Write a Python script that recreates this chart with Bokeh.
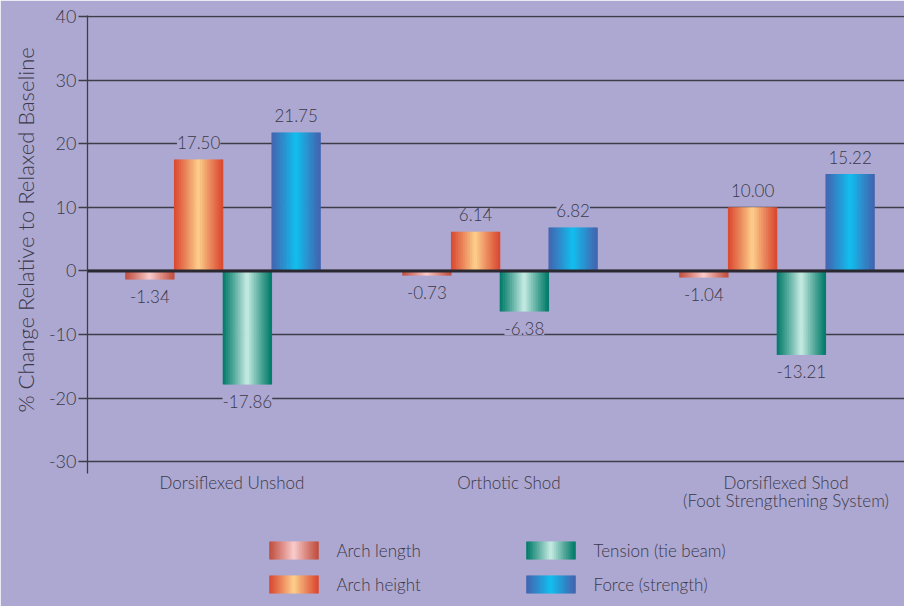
import numpy as np
from bokeh.plotting import figure
from bokeh.models import (Range1d, ColumnDataSource, LabelSet, Span,
                          FixedTicker, Title, BoxAnnotation)
from bokeh.core.properties import value
from bokeh.embed import file_html
from bokeh.resources import INLINE

# ---------------- data ----------------
categories = ["Dorsiflexed Unshod", "Orthotic Shod",
              "Dorsiflexed Shod\n(Foot Strengthening System)"]
series_names = ["Arch length", "Arch height", "Tension (tie beam)", "Force (strength)"]
arch_length = [-1.34, -0.73, -1.04]
arch_height = [17.50, 6.14, 10.00]
tension = [-17.86, -6.38, -13.21]
force = [21.75, 6.82, 15.22]
y_ticks = [-30, -20, -10, 0, 10, 20, 30, 40]
y_title = "% Change Relative to Relaxed Baseline"

series_values = [arch_length, arch_height, tension, force]

# ---------------- style / layout ----------------
BG = "#ada8d2"
TEXT = "#3b3948"
GRID = "#3e3c48"
FONT = "'Lato Light', Lato"
edge_colors = ["#c04e3e", "#da4830", "#007a68", "#4264b0"]
center_colors = ["#facdcd", "#fed08c", "#c8ece4", "#10c0f0"]
N_SLICES = 28
BAR_W = 0.176
W, H = 904, 606
LEFT, TOP = 87, 15
X0, X1 = 0.5108, 3.4603
Y_TOP, Y_AXIS_BOTTOM = 40.15, -31.85
PX_PER_UNIT = 6.3611
Y_BOTTOM = Y_TOP - (H - TOP) / PX_PER_UNIT


def px_to_x(px):
    return X0 + (px - LEFT) / (W - LEFT) * (X1 - X0)


def px_to_y(py):
    return Y_TOP - (py - TOP) / PX_PER_UNIT


def hex2rgb(h):
    h = h.lstrip("#")
    return np.array([int(h[i:i + 2], 16) for i in (0, 2, 4)], dtype=float)


def gradient(edge, center, n):
    t = (np.arange(n) + 0.5) / n
    f = (1 - np.abs(2 * t - 1)) ** 1.1
    e, c = hex2rgb(edge), hex2rgb(center)
    cols = []
    for fi in f:
        rgb = e + (c - e) * fi
        cols.append("#%02x%02x%02x" % tuple(int(round(v)) for v in rgb))
    return t, cols


group_x = np.arange(1, len(categories) + 1)

p = figure(width=W, height=H,
           x_range=Range1d(X0, X1),
           y_range=Range1d(Y_BOTTOM, Y_TOP),
           x_axis_location=None,
           output_backend="svg", toolbar_location=None,
           min_border_left=LEFT, min_border_right=0, min_border_top=TOP,
           min_border_bottom=0,
           background_fill_color=BG, border_fill_color=BG,
           outline_line_color=BG, outline_line_width=2)
# pixel-space ranges for the captions and the legend
p.extra_x_ranges = {"px": Range1d(LEFT, W)}
p.extra_y_ranges = {"px": Range1d(H, TOP)}

# gradient bars built from thin slices
xs, tops, bottoms, cols = [], [], [], []
lab_x, lab_y, lab_t, lab_off = [], [], [], []
for i, vals in enumerate(series_values):
    t, gcols = gradient(edge_colors[i], center_colors[i], N_SLICES)
    for g, v in zip(group_x, vals):
        cx = g + (i - 1.5) * BAR_W
        for tk, ck in zip(t, gcols):
            xs.append(cx - BAR_W / 2 + tk * BAR_W)
            tops.append(max(v, 0))
            bottoms.append(min(v, 0))
            cols.append(ck)
        lab_x.append(cx)
        lab_y.append(v)
        lab_t.append(f"{v:.2f}")
        lab_off.append(17 if v >= 0 else -17)

bars = ColumnDataSource(dict(x=xs, top=tops, bottom=bottoms, color=cols))
p.vbar(x="x", width=BAR_W / N_SLICES * 1.35, top="top", bottom="bottom",
       fill_color="color", line_color=None, source=bars)

labels = ColumnDataSource(dict(x=lab_x, y=lab_y, text=lab_t, yoff=lab_off))
p.add_layout(LabelSet(x="x", y="y", text="text", y_offset="yoff", source=labels,
                      text_align="center", text_baseline="middle",
                      text_font=value(FONT), text_font_size="17px",
                      text_color=TEXT, background_fill_color=BG))

p.add_layout(Span(location=0, dimension="width", line_color="#2a2830",
                  line_width=3))

# y axis and grid
p.ygrid.ticker = FixedTicker(ticks=y_ticks)
p.ygrid.grid_line_color = GRID
p.ygrid.grid_line_width = 1.3
p.xgrid.visible = False

p.yaxis.ticker = FixedTicker(ticks=y_ticks)
p.yaxis.bounds = (Y_AXIS_BOTTOM, Y_TOP)
p.yaxis.major_label_overrides = {int(v): str(v) for v in y_ticks}
p.yaxis.axis_line_color = GRID
p.yaxis.axis_line_width = 1.3
p.yaxis.major_tick_line_color = GRID
p.yaxis.major_tick_line_width = 1.3
p.yaxis.major_tick_out = 9
p.yaxis.major_tick_in = 0
p.yaxis.minor_tick_line_color = None
p.yaxis.major_label_standoff = 2
p.yaxis.major_label_text_font = FONT
p.yaxis.major_label_text_font_size = "18px"
p.yaxis.major_label_text_color = TEXT

# y-axis title as a side title, shifted up to sit beside the axis line
p.add_layout(Title(text=y_title, align="left", offset=194, standoff=13,
                   text_font=FONT, text_font_size="22px",
                   text_font_style="normal", text_color=TEXT), "left")

# cover the hairline seam at the frame's left edge below the axis
p.add_layout(BoxAnnotation(left=px_to_x(84), right=px_to_x(90),
                           top=px_to_y(475), bottom=px_to_y(H + 2),
                           fill_color=BG, fill_alpha=1.0, line_color=None,
                           level="overlay"))

# category captions under the plot area
p.text(x=list(group_x), y=[471] * len(categories), text=categories,
       y_range_name="px", x_offset=9, text_align="center", text_baseline="top",
       text_font=value(FONT), text_font_size="17px", text_line_height=0.9,
       text_color=TEXT)

# ---------------- legend ----------------
col_left = [269, 526]
row_mid = [550, 584]
SW_W, SW_H = 49, 18
lx, ltop, lbot, lcol = [], [], [], []
tx, ty, tt = [], [], []
for i, name in enumerate(series_names):
    c, r = i // 2, i % 2
    t, gcols = gradient(edge_colors[i], center_colors[i], N_SLICES)
    for tk, ck in zip(t, gcols):
        lx.append(col_left[c] + tk * SW_W)
        ltop.append(row_mid[r] - SW_H / 2)
        lbot.append(row_mid[r] + SW_H / 2)
        lcol.append(ck)
    tx.append(col_left[c] + SW_W + 18)
    ty.append(row_mid[r])
    tt.append(name)

p.vbar(x=lx, width=SW_W / N_SLICES * 1.35, top=ltop, bottom=lbot,
       fill_color=lcol, line_color=None, x_range_name="px", y_range_name="px")
p.text(x=tx, y=ty, text=tt, text_font=value(FONT), text_font_size="17px",
       text_baseline="middle", text_align="left", text_color=TEXT,
       x_range_name="px", y_range_name="px")

open("out.html", "w").write(file_html(p, INLINE))
